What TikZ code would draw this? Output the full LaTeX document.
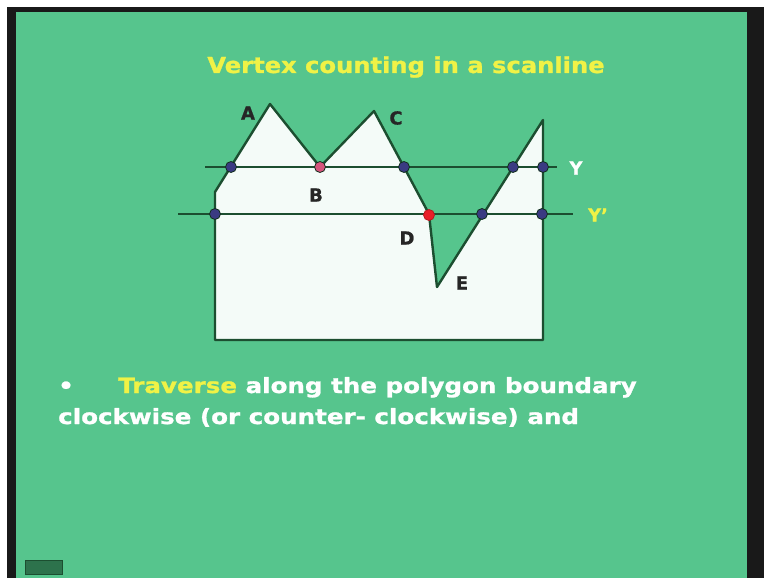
\documentclass[tikz,border=0pt]{standalone}
\usepackage{fontspec}
\setmainfont{DejaVu Sans}
\newfontfamily\widefont[FakeStretch=1.17,FakeBold=1.2]{DejaVu Sans Bold}
\newfontfamily\titlefont[FakeStretch=1.1,FakeBold=1.2]{DejaVu Sans Bold}
\newfontfamily\labelfont[FakeBold=0.8]{DejaVu Sans Bold}
\definecolor{slidegreen}{RGB}{86,197,141}
\definecolor{edgegreen}{RGB}{28,78,48}
\definecolor{polyfill}{RGB}{244,251,248}
\definecolor{titleyellow}{RGB}{240,242,70}
\definecolor{dotblue}{RGB}{58,58,130}
\definecolor{dotpink}{RGB}{214,84,124}
\definecolor{dotred}{RGB}{232,30,40}
\tikzset{
  ptdot/.style={circle,draw=edgegreen!60!black,line width=0.8pt,inner sep=0pt,minimum size=11pt,fill=dotblue},
  vlabel/.style={font=\labelfont\fontsize{18}{18}\selectfont,text=black!85,inner sep=0pt},
  edge/.style={draw=edgegreen,line width=2.4pt,line join=round},
  scan/.style={draw=edgegreen,line width=2.4pt},
  bodytext/.style={font=\widefont\fontsize{21}{21}\selectfont,text=white,inner sep=0pt,anchor=base west},
}
\begin{document}
\begin{tikzpicture}[x=1pt,y=-1pt]
\useasboundingbox (0,0) rectangle (764,578);
\fill[white] (0,0) rectangle (764,578);
\fill[black!90] (7,7) rectangle (764,578);
\fill[slidegreen] (16,12) rectangle (747,578);
% polygon vertices
\coordinate (P1) at (215,340);
\coordinate (P2) at (215,192);
\coordinate (Ap) at (270,104);
\coordinate (Bp) at (320,167);
\coordinate (Cp) at (374,111);
\coordinate (Dp) at (429,214);
\coordinate (Ep) at (437,287);
\coordinate (P8) at (543,120);
\coordinate (P9) at (543,340);
\filldraw[fill=polyfill,edge] (P1) -- (P2) -- (Ap) -- (Bp) -- (Cp) -- (Dp) -- (Ep) -- (P8) -- (P9) -- cycle;
% scanlines
\coordinate (Ys) at (205,167);
\coordinate (Ye) at (557,167);
\coordinate (Y2s) at (178,214);
\coordinate (Y2e) at (573,214);
\draw[scan] (Ys) -- (Ye);
\draw[scan] (Y2s) -- (Y2e);
% intersection dots
\node[ptdot] (y1) at (231,167) {};
\node[ptdot,fill=dotpink] (yb) at (320,167) {};
\node[ptdot] (y3) at (404,167) {};
\node[ptdot] (y4) at (513,167) {};
\node[ptdot] (y5) at (543,167) {};
\node[ptdot] (z1) at (215,214) {};
\node[ptdot,fill=dotred,draw=dotred!80!black] (zd) at (429,215) {};
\node[ptdot] (z3) at (482,214) {};
\node[ptdot] (z4) at (542,214) {};
% vertex labels
\node[vlabel] (la) at (248,113) {A};
\node[vlabel] (lb) at (316,195) {B};
\node[vlabel] (lc) at (396,118) {C};
\node[vlabel] (ld) at (407,238) {D};
\node[vlabel] (le) at (462,283) {E};
\node[vlabel,text=white] (ly) at (576,168) {Y};
\node[vlabel,text=titleyellow] (ly2) at (598,215) {Y’};
% title
\node[font=\titlefont\fontsize{22}{22}\selectfont,text=titleyellow,inner sep=0pt,anchor=base] (title) at (406,73) {Vertex counting in a scanline};
% body text
\node[bodytext] (bullet) at (58,393) {•};
\node[bodytext] (l1) at (118,393) {\textcolor{titleyellow}{Traverse} along the polygon boundary};
\node[bodytext] (l2) at (58,424) {clockwise (or counter- clockwise) and};
% bottom-left icon
\node[draw=edgegreen,fill=edgegreen!70!slidegreen,minimum width=37pt,minimum height=14pt,inner sep=0pt,line width=1pt] (icon) at (44,567) {};
\end{tikzpicture}
\end{document}
